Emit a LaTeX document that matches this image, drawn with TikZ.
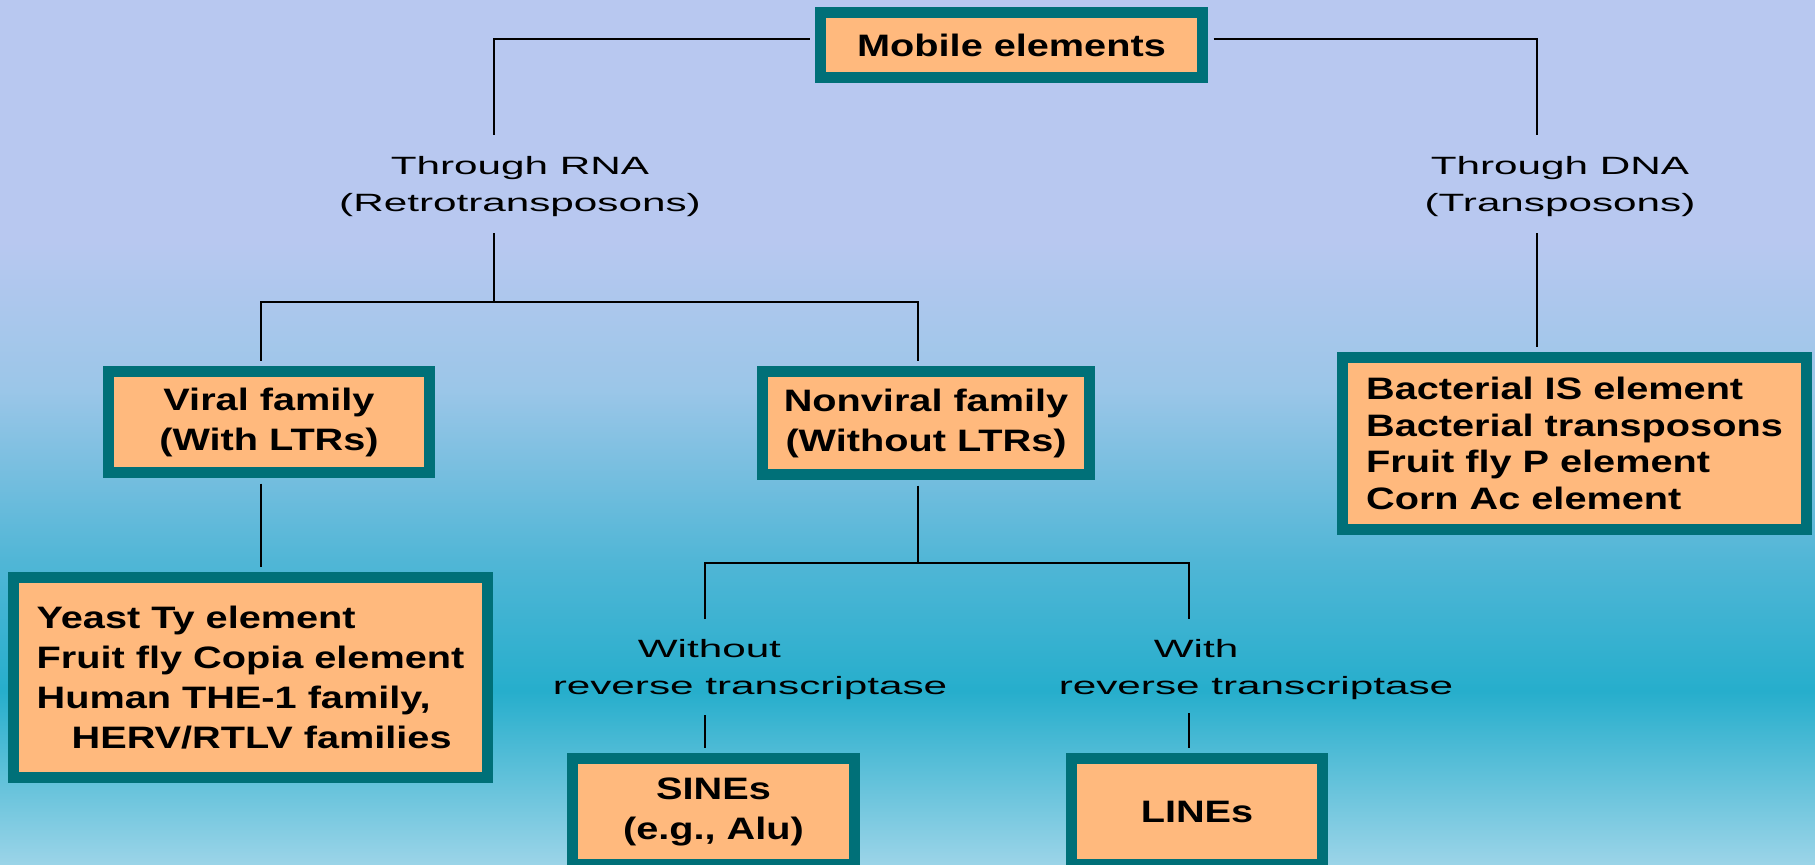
\documentclass[tikz,border=0pt]{standalone}
\usepackage{fontspec}
\usepackage{xcolor}
\usepackage{tikz}
\newfontfamily\boxfont[FakeStretch=1.28]{Liberation Sans}
\newfontfamily\lblfont[FakeStretch=1.69]{Liberation Sans}
\definecolor{boxfill}{RGB}{255,185,125}
\definecolor{boxedge}{RGB}{0,112,120}
\definecolor{bgtop}{RGB}{184,200,240}
\definecolor{bglight}{RGB}{155,198,232}
\definecolor{bgmid}{RGB}{80,182,214}
\definecolor{bgdeep}{RGB}{38,174,204}
\definecolor{bgbot}{RGB}{155,212,232}
\pgfdeclareverticalshading{bgfade}{100bp}{color(0bp)=(bgbot); color(25bp)=(bgbot); color(35bp)=(bgdeep);
  color(42.5bp)=(bgmid); color(52.5bp)=(bglight); color(61bp)=(bgtop); color(100bp)=(bgtop)}

\begin{document}
\begin{tikzpicture}[
    x=0.5pt, y=-0.5pt,% one unit = one pixel, y going down
       box/.style = {draw=boxedge, line width=5.5pt, fill=boxfill, inner sep=2pt, align=center,
                     font=\boxfont\bfseries\fontsize{15.5pt}{20pt}\selectfont},% teal framed boxes
       lbl/.style = {inner sep=0pt, font=\lblfont\fontsize{12.5pt}{18.5pt}\selectfont},% branch texts
      link/.style = {line width=1pt}% connectors
    ]
    \useasboundingbox (0,0) rectangle (1815,864);
    \clip (0,0) rectangle (1815,864);
    \shade[shading=bgfade] (0,0) rectangle (1815,864);

    \node (mobile) [box, minimum width=191pt, minimum height=32.5pt] at (1011.5,45) {Mobile elements};
    \node (rna) [lbl, align=center] at (520,187) {Through RNA\\(Retrotransposons)};
    \node (dna) [lbl, align=center] at (1560,187) {Through DNA\\(Transposons)};
    \node (viral) [box, minimum width=160.5pt, minimum height=50.5pt] at (269,422) {Viral family\\(With LTRs)};
    \node (nonviral) [box, minimum width=163.5pt, minimum height=51.5pt] at (926,423) {Nonviral family\\(Without LTRs)};
    \node (yeast) [box, align=left, minimum width=237pt, minimum height=100pt] at (250.5,677.5)
        {Yeast Ty element\\Fruit fly Copia element\\Human THE-1 family,\\\hspace*{17.5pt}HERV/RTLV families};
    \node (bacterial) [box, align=left, minimum width=232pt, minimum height=86pt,
        font=\boxfont\bfseries\fontsize{15.5pt}{18.2pt}\selectfont] at (1574.5,443.5)
        {Bacterial IS element\\Bacterial transposons\\Fruit fly P element\\Corn Ac element};
    \node (without) [lbl, align=left] at (750,670) {\hspace*{42.5pt}Without\\reverse transcriptase};
    \node (with) [lbl, align=left] at (1256,670) {\hspace*{47.5pt}With\\reverse transcriptase};
    \node (sines) [box, minimum width=141pt, minimum height=53pt] at (713.5,811.5) {SINEs\\(e.g., Alu)};
    \node (lines) [box, minimum width=125.5pt, minimum height=53pt] at (1197,811.5) {LINEs};

    % branch points
    \coordinate (rnaTop) at (494,135);
    \coordinate (rnaBot) at (494,233);
    \coordinate (rnaFork) at (494,302);
    \coordinate (dnaTop) at (1537,135);
    \coordinate (dnaBot) at (1537,233);
    \coordinate (nvFork) at (918,563);
    \coordinate (woTop) at (705,619);
    \coordinate (woBot) at (705,715);
    \coordinate (wTop) at (1189,619);
    \coordinate (wBot) at (1189,713);

    \draw[link, shorten <=2.75pt] ([yshift=3pt]mobile.west) -| (rnaTop);
    \draw[link, shorten <=2.75pt] ([yshift=3pt]mobile.east) -| (dnaTop);
    \draw[link] (rnaBot) -- (rnaFork);
    \draw[link, shorten <=2.75pt, shorten >=2.75pt] ([xshift=-4pt]viral.north) |- (rnaFork) -| ([xshift=-4pt]nonviral.north);
    \draw[link, shorten <=2.75pt, shorten >=2.75pt] ([xshift=-4pt]viral.south) -- ([xshift=-4pt]viral.south |- yeast.north);
    \draw[link, shorten >=2.75pt] (dnaBot) -- (dnaBot |- bacterial.north);
    \draw[link, shorten <=2.75pt] ([xshift=-4pt]nonviral.south) -- (nvFork);
    \draw[link] (woTop) |- (nvFork) -| (wTop);
    \draw[link, shorten >=2.75pt] (woBot) -- (woBot |- sines.north);
    \draw[link, shorten >=2.75pt] (wBot) -- (wBot |- lines.north);
\end{tikzpicture}
\end{document}
